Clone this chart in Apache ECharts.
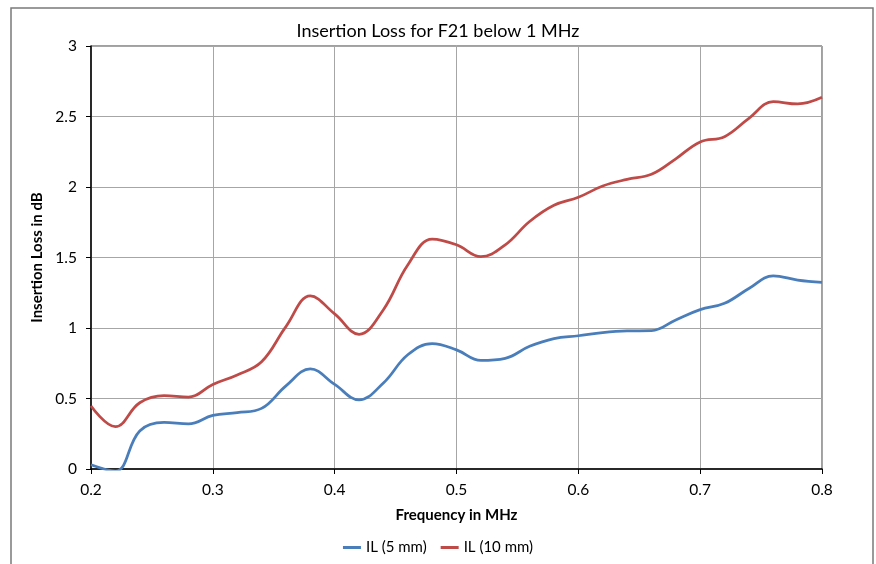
<!DOCTYPE html>
<html>
<head>
<meta charset="utf-8">
<script src="https://cdn.jsdelivr.net/npm/echarts@6/dist/echarts.min.js"></script>
<style>
    html, body { margin: 0; padding: 0; background: #fff; }
    #chart { width: 876px; height: 564px; }
</style>
</head>
<body>
<div id="chart"></div>
<script>
// frequency in MHz, step 0.02
const freqs = [0.20, 0.22, 0.24, 0.26, 0.28, 0.30, 0.32, 0.34, 0.36, 0.38,
               0.40, 0.42, 0.44, 0.46, 0.48, 0.50, 0.52, 0.54, 0.56, 0.58,
               0.60, 0.62, 0.64, 0.66, 0.68, 0.70, 0.72, 0.74, 0.76, 0.78, 0.80]
// insertion loss in dB
const il5mm = [0.03, -0.015, 0.27, 0.33, 0.32, 0.38, 0.40, 0.43, 0.59, 0.71,
               0.60, 0.49, 0.61, 0.81, 0.89, 0.845, 0.77, 0.785, 0.87, 0.925,
               0.945, 0.967, 0.979, 0.981, 1.057, 1.13, 1.175, 1.28, 1.37, 1.34, 1.324]
const il10mm = [0.447, 0.30, 0.47, 0.52, 0.51, 0.60, 0.667, 0.76, 1.01, 1.227,
                1.10, 0.955, 1.13, 1.447, 1.63, 1.59, 1.506, 1.59, 1.755, 1.87,
                1.927, 2.007, 2.054, 2.09, 2.20, 2.32, 2.357, 2.487, 2.605, 2.589, 2.636]
const seriesNames = ['IL (5 mm)', 'IL (10 mm)']

const font = 'Lato, "Open Sans", sans-serif'

window.onload = function () {
    let chart = echarts.init(document.getElementById('chart'))
    let option = {
        animation: false,
        backgroundColor: '#fff',
        textStyle: { fontFamily: font, color: '#000' },
        title: {
            text: 'Insertion Loss for F21 below 1 MHz',
            left: 'center',
            top: 17,
            textStyle: { fontFamily: font, fontSize: 18, fontWeight: 'normal', color: '#000' }
        },
        graphic: [{
            type: 'rect',
            shape: { x: 11, y: 8, width: 862, height: 620 },
            style: { fill: null, stroke: '#7a7a7a', lineWidth: 1.5 },
            silent: true
        }],
        legend: {
            bottom: 4,
            left: 'center',
            icon: 'rect',
            itemWidth: 18,
            itemHeight: 3,
            itemGap: 14,
            textStyle: { fontFamily: font, fontSize: 15, color: '#000' },
            data: seriesNames
        },
        grid: {
            left: 91, right: 54, top: 46, bottom: 95,
            show: true,
            borderColor: '#404040',
            borderWidth: 1
        },
        xAxis: {
            type: 'value',
            min: 0.2, max: 0.8, interval: 0.1,
            name: 'Frequency in MHz',
            nameLocation: 'middle',
            nameGap: 39,
            nameTextStyle: { fontFamily: font, fontSize: 15, fontWeight: 'bold', color: '#000' },
            axisLine: { show: true, onZero: false, lineStyle: { color: '#000', width: 1.5 } },
            axisTick: { show: true, length: 5, lineStyle: { color: '#000' } },
            axisLabel: { fontFamily: font, fontSize: 15.5, color: '#000', margin: 13 },
            splitLine: { show: true, lineStyle: { color: '#a6a6a6', width: 1 } }
        },
        yAxis: {
            type: 'value',
            min: 0, max: 3, interval: 0.5,
            name: 'Insertion Loss in dB',
            nameLocation: 'middle',
            nameGap: 37,
            nameTextStyle: { fontFamily: font, fontSize: 15, fontWeight: 'bold', color: '#000' },
            axisLine: { show: true, lineStyle: { color: '#000', width: 1.5 } },
            axisTick: { show: true, length: 5, lineStyle: { color: '#000' } },
            axisLabel: { fontFamily: font, fontSize: 15.5, color: '#000', margin: 14 },
            splitLine: { show: true, lineStyle: { color: '#a6a6a6', width: 1 } }
        },
        series: [
            {
                name: seriesNames[0],
                type: 'line',
                data: freqs.map((f, i) => [f, il5mm[i]]),
                smooth: 0.4,
                showSymbol: false,
                clip: true,
                color: '#4a7ebb',
                lineStyle: { width: 2.75, color: '#4a7ebb' }
            },
            {
                name: seriesNames[1],
                type: 'line',
                data: freqs.map((f, i) => [f, il10mm[i]]),
                smooth: 0.4,
                showSymbol: false,
                clip: true,
                color: '#be4b48',
                lineStyle: { width: 2.75, color: '#be4b48' }
            }
        ]
    }
    chart.setOption(option)
}
</script>
</body>
</html>
